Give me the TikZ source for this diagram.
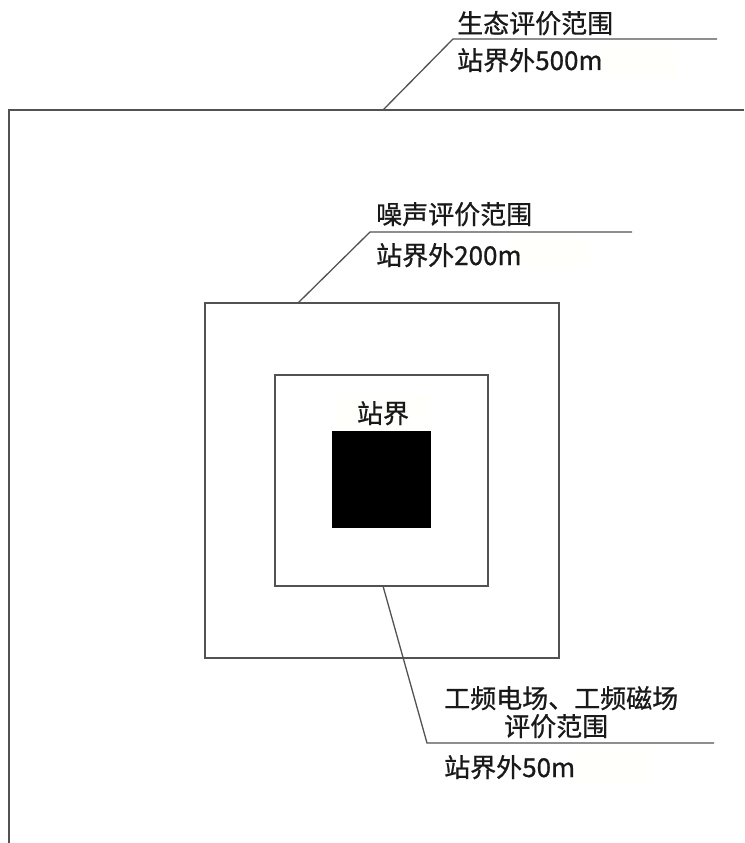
\documentclass[tikz,border=0pt]{standalone}
\usepackage{fontspec}
\newfontfamily\cjk[FakeBold=0.8]{Noto Sans CJK SC}
\begin{document}
\begin{tikzpicture}[x=1pt,y=-1pt,
  frame/.style={draw=black!68,line width=1.5pt},
  leader/.style={draw=black!68,line width=1.3pt},
  lbl/.style={inner sep=0pt,anchor=base west,font=\cjk\fontsize{26}{26}\selectfont,text=black!90},
  tint/.style={fill=black!2!yellow!1!white,draw=none}]
\useasboundingbox (0,0) rectangle (744,843);
\fill[white] (0,0) rectangle (744,843);
% faint tinted boxes
\fill[tint] (600,43) rectangle (675,77);
\fill[tint] (510,237) rectangle (590,268);
\fill[tint] (570,748) rectangle (650,783);
\fill[tint] (335,395) rectangle (430,430);
% outer range (500 m)
\coordinate (oTR) at (744,110);
\coordinate (oTL) at (9,110);
\coordinate (oBL) at (9,843);
\draw[frame] (oTR) -- (oTL) -- (oBL);
% middle square (200 m)
\node[frame,minimum width=354pt,minimum height=355pt,inner sep=0pt] (mid) at (382,480.5) {};
% inner square (50 m)
\node[frame,minimum width=213pt,minimum height=211pt,inner sep=0pt] (inn) at (381.5,480.5) {};
% station
\node[fill=black,minimum width=99pt,minimum height=97pt,inner sep=0pt] (stn) at (381.5,479.5) {};
\node[lbl,anchor=base] (stnl) at (383,423) {站界};
% leaders
\coordinate (a1) at (383,110);
\coordinate (a2) at (453,39);
\coordinate (a3) at (717,39);
\draw[leader] (a1) -- (a2) -- (a3);
\coordinate (b1) at (298,303);
\coordinate (b2) at (370,232);
\coordinate (b3) at (632,232);
\draw[leader] (b1) -- (b2) -- (b3);
\coordinate (c1) at (383,586);
\coordinate (c2) at (427,743);
\coordinate (c3) at (714,743);
\draw[leader] (c1) -- (c2) -- (c3);
% labels
\node[lbl] (t1) at (457,33) {生态评价范围};
\node[lbl] (t2) at (457,70) {站界外500m};
\node[lbl] (t3) at (376,224) {噪声评价范围};
\node[lbl] (t4) at (376,265) {站界外200m};
\node[lbl] (t5) at (444,708) {工频电场、工频磁场};
\node[lbl] (t6) at (504,736) {评价范围};
\node[lbl] (t7) at (444,777) {站界外50m};
\end{tikzpicture}
\end{document}
